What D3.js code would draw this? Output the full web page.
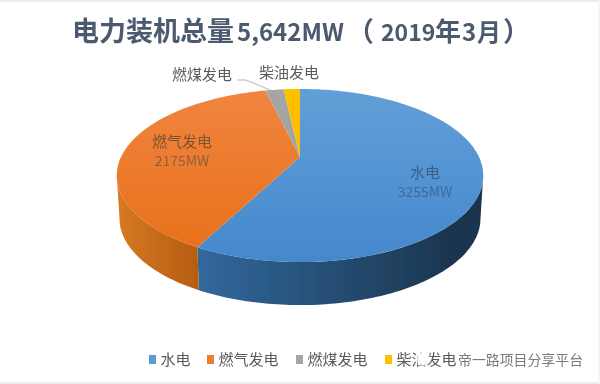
<!DOCTYPE html>
<html lang="en">
<head>
    <meta charset="UTF-8">
    <title>Pie Chart</title>
    <script src="https://d3js.org/d3.v7.min.js"></script>
    <style>
        html, body { margin: 0; padding: 0; background: #fff; }
        text { font-family: "Noto Sans CJK SC", "Noto Sans", sans-serif; }
    </style>
</head>
<body>
    <div id="chart"></div>
    <script>
        // Values
        var categories = ["水电", "燃气发电", "燃煤发电", "柴油发电"];
        var values = [3255, 2175, 112, 100];
        var topColors = ["#629fd8", "#f08540", "#a5a5a5", "#ffc000"];
        var lowColors = ["#4488cc", "#e86f18", "#a0a0a0", "#f5b800"];
        var legendColors = ["#5b9bd5", "#ed7d31", "#a5a5a5", "#ffc000"];
        var sideLight = ["#32689c", "#d67a24"];
        var sideDark = ["#1b3650", "#b65c10"];
        var watermark = "帝一路项目分享平台";

        var width = 600, height = 384;
        var root = d3.select("#chart").append("svg")
            .attr("width", width).attr("height", height)
            .style("display", "block");

        var defs = root.append("defs");

        // the reference is a soft, upscaled screenshot
        defs.append("filter").attr("id", "soft")
            .attr("x", 0).attr("y", 0).attr("width", 1).attr("height", 1)
            .append("feGaussianBlur").attr("stdDeviation", 0.4);
        defs.append("filter").attr("id", "blot")
            .append("feGaussianBlur").attr("stdDeviation", 1.5);

        var svg = root.append("g").attr("filter", "url(#soft)");

        svg.append("rect").attr("width", width).attr("height", height).attr("fill", "#fff");
        // grey edges of the screenshot
        svg.append("rect").attr("width", width).attr("height", 2).attr("fill", "#ececec");
        svg.append("rect").attr("y", height - 2).attr("width", width).attr("height", 2).attr("fill", "#ececec");
        svg.append("rect").attr("x", width - 2).attr("width", 2).attr("height", height).attr("fill", "#f4f4f4");

        // Pie is tilted with perspective: the apex sits above the ellipse centre
        var cx = 300, apexY = 157, persp = -0.214, rx = 179, ry = 49, depth = 43;
        function project(angle, shrink, drop) {
            var u = Math.sin(angle), v = -Math.cos(angle);
            var w = 1 + persp * v;
            return [cx + rx * shrink * u / w, (ry * v + apexY) / w + drop];
        }
        function steps(a0, a1) {
            var n = Math.max(2, Math.ceil(Math.abs(a1 - a0) / 0.02));
            return d3.range(n + 1).map(function(i) { return a0 + (a1 - a0) * i / n; });
        }

        var pie = d3.pie().sort(null);
        var arcs = pie(values);
        var line = d3.line();

        // Side wall, only the part facing the viewer
        var sideStart = Math.acos(persp), sideEnd = 2 * Math.PI - sideStart;

        arcs.slice(0, 2).forEach(function(d, i) {
            var a0 = Math.max(d.startAngle, sideStart), a1 = Math.min(d.endAngle, sideEnd);
            var upper = steps(a0, a1).map(function(a) { return project(a, 1, 0); });
            var lower = steps(a1, a0).map(function(a) { return project(a, 0.985, depth); });
            var xs = d3.extent(upper.concat(lower), function(p) { return p[0]; });
            var grad = defs.append("linearGradient").attr("id", "side" + i)
                .attr("gradientUnits", "userSpaceOnUse")
                .attr("x1", i === 0 ? xs[0] : xs[1]).attr("x2", i === 0 ? xs[1] * 0.93 : xs[0])
                .attr("y1", 0).attr("y2", 0);
            grad.append("stop").attr("offset", "0%").attr("stop-color", i === 0 ? sideLight[0] : sideDark[1]);
            grad.append("stop").attr("offset", "100%").attr("stop-color", i === 0 ? sideDark[0] : sideLight[1]);
            svg.append("path")
                .attr("d", line(upper.concat(lower)) + "Z")
                .attr("fill", "url(#side" + i + ")");
        });

        // Top face
        arcs.forEach(function(d, i) {
            var grad = defs.append("linearGradient").attr("id", "top" + i)
                .attr("gradientUnits", "userSpaceOnUse")
                .attr("x1", 0).attr("x2", 0).attr("y1", 89).attr("y2", 262);
            grad.append("stop").attr("offset", "0%").attr("stop-color", topColors[i]);
            grad.append("stop").attr("offset", "100%").attr("stop-color", lowColors[i]);
            var rim = steps(d.startAngle, d.endAngle).map(function(a) { return project(a, 1, 0); });
            var pts = [[cx, apexY]].concat(rim);
            svg.append("path")
                .attr("d", line(pts) + "Z")
                .attr("fill", "url(#top" + i + ")");
        });

        // Title, pieces placed one by one because of the wide brackets
        var titleParts = [
            [72, 27, "电力装机总量"], [237, 24, "5,642MW"], [347, 27, "（"], [381, 23, "2019"],
            [435, 26, "年"], [462, 24, "3"], [477, 24, "月"], [503, 27, "）"]
        ];
        var title = svg.append("text").attr("y", 41)
            .attr("font-weight", "bold").attr("fill", "#4b5a6e");
        titleParts.forEach(function(p) {
            title.append("tspan").attr("x", p[0]).attr("font-size", p[1]).text(p[2]);
        });

        // Data labels
        var labelColor = "#5a5a5a";
        function label(x, y, s, size, color) {
            svg.append("text").attr("x", x).attr("y", y).attr("text-anchor", "middle")
                .attr("font-size", size).attr("fill", color).text(s);
        }
        label(425, 178, categories[0], 15, "#3c5f88");
        label(425, 197, values[0] + "MW", 14, "#3f6a9c");
        label(182, 147, categories[1], 15, "#7c5234");
        label(182, 166, values[1] + "MW", 14, "#90603c");
        label(202, 80, categories[2], 15, labelColor);
        label(289, 78, categories[3], 15, labelColor);

        // Leader line for coal
        svg.append("path")
            .attr("d", line([[237, 80], [246, 80], [270, 90]]))
            .attr("fill", "none").attr("stroke", "#b5b5b5").attr("stroke-width", 1);

        // Legend
        var legendX = [149, 207, 296, 385];
        categories.forEach(function(s, i) {
            svg.append("rect").attr("x", legendX[i]).attr("y", 355).attr("width", 7).attr("height", 9)
                .attr("fill", legendColors[i]);
            svg.append("text").attr("x", legendX[i] + 11.5).attr("y", 365)
                .attr("font-size", 15).attr("fill", labelColor).text(s);
        });
        // Watermark after the last legend entry, its icon blots out part of the entry
        svg.append("circle").attr("cx", 423).attr("cy", 359).attr("r", 7)
            .attr("fill", "#fff").attr("filter", "url(#blot)");
        svg.append("text").attr("x", 458).attr("y", 364.5)
            .attr("font-size", 13.9).attr("fill", "#7a7a7a").text(watermark);
    </script>
</body>
</html>
